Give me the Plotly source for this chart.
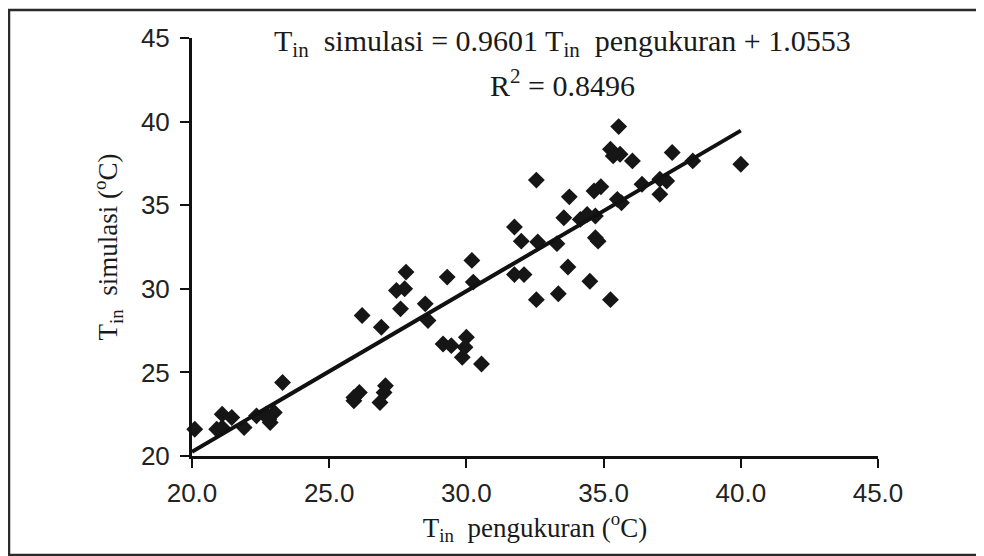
import plotly.graph_objects as go

# Measured (x) and simulated (y) inside temperature, °C
t_pengukuran = [20.1, 20.9, 21.1, 21.1, 21.45, 21.9, 22.35, 22.7, 22.85, 23.0, 22.8, 23.3,
                25.9, 25.9, 26.1, 26.2, 26.9, 26.85, 27.0, 27.05, 27.45, 27.75, 27.8, 27.6,
                28.5, 28.6, 29.15, 29.45, 30.0, 29.85, 29.95, 30.55, 29.3, 30.2, 30.25,
                31.75, 32.0, 31.75, 32.1, 32.55, 32.6, 32.55, 33.3, 33.35, 33.7, 33.75,
                33.55, 34.15, 34.4, 34.65, 34.9, 34.7, 34.7, 34.8, 34.5, 35.25, 35.5, 35.65,
                35.55, 35.25, 35.35, 35.6, 36.05, 36.4, 37.05, 37.3, 37.05, 37.5, 38.25, 40.0]
t_simulasi = [21.6, 21.6, 21.7, 22.5, 22.3, 21.7, 22.4, 22.5, 22.0, 22.6, 22.2, 24.4,
              23.3, 23.5, 23.8, 28.4, 27.7, 23.2, 23.8, 24.2, 29.9, 30.0, 31.0, 28.8,
              29.1, 28.1, 26.7, 26.6, 27.1, 25.9, 26.5, 25.5, 30.7, 31.7, 30.4,
              33.7, 32.85, 30.85, 30.85, 36.5, 32.8, 29.35, 32.7, 29.7, 31.3, 35.5,
              34.25, 34.15, 34.45, 35.85, 36.1, 34.35, 33.05, 32.85, 30.45, 29.35, 35.35, 35.15,
              39.7, 38.35, 37.95, 38.05, 37.65, 36.25, 36.55, 36.45, 35.65, 38.15, 37.65, 37.45]

slope = 0.9601
intercept = 1.0553
fit_x = [20.0, 40.0]
fit_y = [slope * v + intercept for v in fit_x]

x_ticks = [20, 25, 30, 35, 40, 45]
y_ticks = [20, 25, 30, 35, 40, 45]

# page has an 8px body margin; figure is sized/offset to compensate
W, H = 976, 548
L, T = 184, 30
PW, PH = 686, 418

fig = go.Figure()
fig.add_trace(go.Scatter(
    x=t_pengukuran, y=t_simulasi, mode="markers",
    marker=dict(symbol="diamond", size=13, color="#161616"),
    showlegend=False, cliponaxis=False))
fig.add_trace(go.Scatter(
    x=fit_x, y=fit_y, mode="lines",
    line=dict(color="#111111", width=4),
    showlegend=False, cliponaxis=False))

serif = "Liberation Serif, Times New Roman, serif"
sans = "Liberation Sans, Arial, sans-serif"

fig.update_layout(
    width=W, height=H,
    margin=dict(l=L, r=W - L - PW, t=T, b=H - T - PH, pad=0),
    paper_bgcolor="white", plot_bgcolor="white",
    xaxis=dict(range=[20, 45], tickvals=x_ticks, tickformat=".1f",
               showgrid=False, zeroline=False,
               showline=True, linecolor="#111111", linewidth=3,
               ticks="outside", ticklen=9, tickwidth=2, tickcolor="#111111",
               ticklabelstandoff=3,
               tickfont=dict(family=sans, size=26, color="#222222"),
               title=dict(text="T<sub>in</sub>  pengukuran (<sup>o</sup>C)",
                          font=dict(family=serif, size=27, color="#1a1a1a"),
                          standoff=1)),
    yaxis=dict(range=[20, 45], tickvals=y_ticks,
               showgrid=False, zeroline=False,
               showline=True, linecolor="#111111", linewidth=3,
               ticks="outside", ticklen=9, tickwidth=2, tickcolor="#111111",
               ticklabelstandoff=5,
               tickfont=dict(family=sans, size=26, color="#222222"),
               title=dict(text="T<sub>in</sub>  simulasi (<sup>o</sup>C)",
                          font=dict(family=serif, size=27, color="#1a1a1a"),
                          standoff=16)),
    annotations=[
        dict(text="T<sub>in</sub>  simulasi = 0.9601 T<sub>in</sub>  pengukuran + 1.0553",
             xref="paper", yref="paper", x=(554 - L) / PW, y=(T + PH - 35) / PH,
             xanchor="center", yanchor="middle",
             showarrow=False, font=dict(family=serif, size=30, color="#1a1a1a")),
        dict(text="R<sup>2</sup> = 0.8496",
             xref="paper", yref="paper", x=(554 - L) / PW, y=(T + PH - 75) / PH,
             xanchor="center", yanchor="middle",
             showarrow=False, font=dict(family=serif, size=30, color="#1a1a1a")),
    ],
    shapes=[
        dict(type="rect", xref="paper", yref="paper",
             x0=(1 - L) / PW, x1=(973 - L) / PW,
             y0=(T + PH - 547) / PH, y1=(T + PH - 2) / PH,
             line=dict(color="#2a2a2a", width=2.5), fillcolor="rgba(0,0,0,0)", layer="below"),
    ],
)

fig.write_html("out.html")
